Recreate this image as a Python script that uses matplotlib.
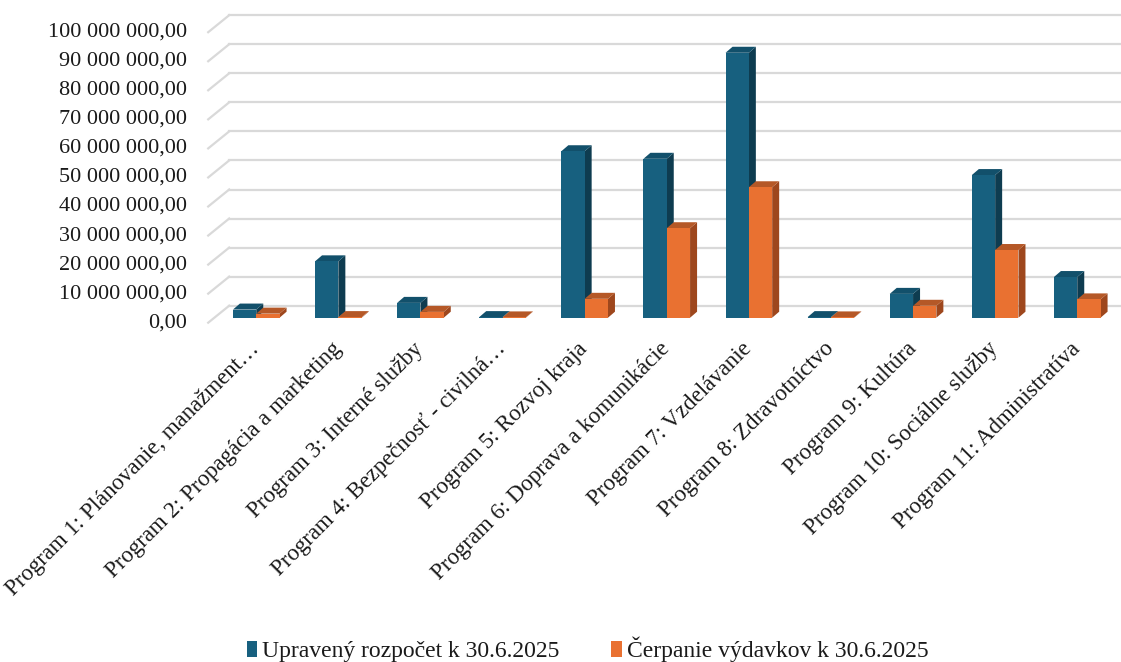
import matplotlib
matplotlib.use("Agg")
import matplotlib.pyplot as plt
from matplotlib.patches import Polygon, Patch
from matplotlib.lines import Line2D
import numpy as np

plt.rcParams['font.family'] = ['Liberation Serif', 'DejaVu Serif']

categories = [
    "Program 1: Plánovanie, manažment…",
    "Program 2: Propagácia a marketing",
    "Program 3: Interné služby",
    "Program 4: Bezpečnosť - civilná…",
    "Program 5: Rozvoj kraja",
    "Program 6: Doprava a komunikácie",
    "Program 7: Vzdelávanie",
    "Program 8: Zdravotníctvo",
    "Program 9: Kultúra",
    "Program 10: Sociálne služby",
    "Program 11: Administratíva",
]
budget = [2.8e6, 19.4e6, 5.1e6, 0.2e6, 57.3e6, 54.7e6, 91.2e6, 0.2e6, 8.2e6, 49.1e6, 14.0e6]
spent = [1.4e6, 0.2e6, 2.0e6, 0.1e6, 6.5e6, 30.8e6, 44.9e6, 0.1e6, 4.1e6, 23.3e6, 6.3e6]
series_names = ["Upravený rozpočet k 30.6.2025", "Čerpanie výdavkov k 30.6.2025"]
ytick_values = [0, 10e6, 20e6, 30e6, 40e6, 50e6, 60e6, 70e6, 80e6, 90e6, 100e6]

front_colors = ["#17607F", "#E97131"]
side_colors = ["#0E3C50", "#9E471D"]
top_colors = ["#12506B", "#B55827"]
grid_color = "#D9D9D9"
text_color = "#1A1A1A"

W, H = 1121, 662
fig = plt.figure(figsize=(W / 100, H / 100), dpi=100)
ax_left, ax_right = 215.2, 1118.3
ax_bottom_img, ax_top_img = 317.7, 27.2
ax = fig.add_axes([ax_left / W, (H - ax_bottom_img) / H,
                   (ax_right - ax_left) / W, (ax_bottom_img - ax_top_img) / H])
ax.set_xlim(-0.5, 10.5)
ax.set_ylim(0, 100e6)
ax.axis("off")

T = ax.transData
Tinv = T.inverted()


def shift(x, y, dxp, dyp):
    px, py = T.transform((x, y))
    return tuple(Tinv.transform((px + dxp, py + dyp)))


# depth offsets in pixels (display coords, y up)
FRONT = (-7, -5)
BACK = (14, 12)
BAR_D = (7, 6)

xl, xr = ax.get_xlim()
# back wall gridlines and left wall diagonals
for v in ytick_values:
    a = shift(xl, v, *BACK)
    b = shift(xr + 0.3, v, *BACK)
    ax.add_line(Line2D([a[0], b[0]], [a[1], b[1]], color=grid_color, lw=1.6,
                       clip_on=False, zorder=1))
    f = shift(xl, v, *FRONT)
    ax.add_line(Line2D([f[0], a[0]], [f[1], a[1]], color=grid_color, lw=1.6,
                       clip_on=False, zorder=1))
    lbl = f"{int(v):,}".replace(",", " ") + ",00"
    tp = shift(xl, v, -28, -5)
    ax.text(tp[0], tp[1], lbl, ha="right", va="center", fontsize=16,
            color=text_color, clip_on=False)

bw = 0.284
for i in range(len(categories)):
    for s, vals in enumerate([budget, spent]):
        x0 = i - bw + s * bw
        x1 = x0 + bw
        v = vals[i]
        # side face
        p1 = shift(x1, 0, *BAR_D)
        p2 = shift(x1, v, *BAR_D)
        ax.add_patch(Polygon([(x1, 0), (x1, v), p2, p1], closed=True,
                             facecolor=side_colors[s], edgecolor="none",
                             zorder=3 + 2 * i + s, clip_on=False))
        # top face
        q1 = shift(x0, v, *BAR_D)
        ax.add_patch(Polygon([(x0, v), (x1, v), p2, q1], closed=True,
                             facecolor=top_colors[s], edgecolor="none",
                             zorder=3 + 2 * i + s, clip_on=False))
        # front face
        ax.add_patch(Polygon([(x0, 0), (x1, 0), (x1, v), (x0, v)], closed=True,
                             facecolor=front_colors[s], edgecolor="none",
                             zorder=3 + 2 * i + s, clip_on=False))

# category labels
for i, c in enumerate(categories):
    p = shift(i, 0, 0, -28)
    ax.text(p[0], p[1], c, rotation=45, rotation_mode="anchor", ha="right",
            va="center", fontsize=16.5, color=text_color, clip_on=False)

handles = [Patch(facecolor=front_colors[0], edgecolor="none"),
           Patch(facecolor=front_colors[1], edgecolor="none")]
fig.legend(handles, series_names, loc="center", bbox_to_anchor=(0.524, 0.019),
           ncol=2, frameon=False, fontsize=17, handlelength=0.45,
           handleheight=0.65, handletextpad=0.2, columnspacing=2.2,
           labelcolor=text_color)

fig.savefig("out.png", dpi=100)
